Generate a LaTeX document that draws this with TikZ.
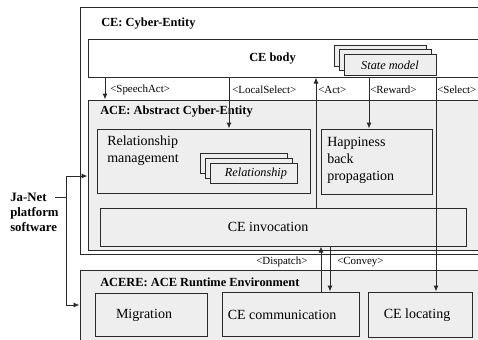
\documentclass[tikz,border=0pt]{standalone}
\usepackage{fontspec}
\setmainfont{Liberation Serif}
\usetikzlibrary{arrows.meta,fit}
\definecolor{boxgray}{HTML}{EEEEEE}
\definecolor{linegray}{HTML}{2A2A2A}
\begin{document}
\begin{tikzpicture}[x=0.75pt,y=-0.75pt,
  ln/.style={draw=linegray, line width=0.75pt},
  arr/.style={ln, -{Latex[length=4.5pt,width=3.8pt]}},
  box/.style={ln, inner sep=0pt, fill=boxgray},
  wbox/.style={ln, inner sep=0pt, fill=white},
  ttl/.style={inner sep=0pt, anchor=west, font=\fontsize{9.3}{11}\selectfont\bfseries},
  txt/.style={inner sep=0pt, font=\fontsize{10.5}{12.75}\selectfont},
  lbl/.style={inner sep=0pt, anchor=west, font=\fontsize{8.2}{10}\selectfont},
  itl/.style={inner sep=0pt, font=\fontsize{9.2}{11}\selectfont\itshape}]
\useasboundingbox (0,0) rectangle (478,339);
\clip (0,0) rectangle (478,339);
\fill[white] (0,0) rectangle (478,339);
% containers
\node[wbox, fit={(80,7) (530,254)}] (ce) {};
\node[wbox, fit={(88,39) (530,77)}] (cebody) {};
\node[box, fit={(88,100) (530,250)}] (ace) {};
\node[box, fit={(80,270) (530,360)}] (acere) {};
% ACE boxes
\node[box, fit={(97,129) (310,193)}] (relmgmt) {};
\node[box, fit={(321,129) (432,194)}] (happy) {};
\node[box, fit={(100,208) (466,246)}] (ceinv) {};
% ACERE boxes
\node[box, fit={(95,293) (207,336)}] (migr) {};
\node[box, fit={(222,292) (359,336)}] (cecomm) {};
\node[box, fit={(368,292) (472,337)}] (celoc) {};
% stacked: state model
\node[box, fit={(334,45) (426,66)}] (sm3) {};
\node[box, fit={(339,49.5) (431,70.5)}] (sm2) {};
\node[box, fit={(344,54) (436,75)}] (sm1) {};
% stacked: relationship
\node[box, fit={(200,153) (287,173)}] (rl3) {};
\node[box, fit={(205,158) (292,178)}] (rl2) {};
\node[box, fit={(210,163) (297,183)}] (rl1) {};
% texts
\node[ttl] (tce) at (101,24) {CE: Cyber-Entity};
\node[ttl] (tbody) at (249,59) {CE body};
\node[ttl] (tace) at (100,112) {ACE: Abstract Cyber-Entity};
\node[ttl] (tacere) at (100,282) {ACERE: ACE Runtime Environment};
\node[itl] (tsm) at (390,65) {State model};
\node[itl] (trl) at (256,173.5) {Relationship};
\node[txt, anchor=north west, align=left] (trm) at (107,136) {Relationship\\management};
\node[txt, anchor=north west, align=left] (thp) at (327,137) {Happiness\\back\\propagation};
\node[txt] (tinv) at (268,227) {CE invocation};
\node[txt] (tmig) at (144,315) {Migration};
\node[txt] (tcom) at (282,315) {CE communication};
\node[txt] (tloc) at (417,315) {CE locating};
\node[inner sep=0pt, anchor=west, align=left, font=\fontsize{9.6}{11.25}\selectfont\bfseries] (janet) at (10,212) {Ja-Net\\platform\\software};
% labels
\node[lbl] (lsa) at (110,89.5) {<SpeechAct>};
\node[lbl] (lls) at (232,89.5) {<LocalSelect>};
\node[lbl] (lact) at (318,89.5) {<Act>};
\node[lbl] (lrew) at (370,89.5) {<Reward>};
\node[lbl] (lsel) at (437,89.5) {<Select>};
\node[lbl] (ldis) at (256,262) {<Dispatch>};
\node[lbl] (lcon) at (337,262) {<Convey>};
% connector x positions
\coordinate (xsa) at (105,0);
\coordinate (xls) at (229,0);
\coordinate (xact) at (316,0);
\coordinate (xrew) at (369,0);
\coordinate (xsel) at (436,0);
\coordinate (xdis) at (321,0);
\coordinate (xcon) at (330,0);
\draw[arr] (cebody.south -| xsa) -- (ace.north -| xsa);
\draw[arr] (cebody.south -| xls) -- (relmgmt.north -| xls);
\draw[arr] (ceinv.north -| xact) -- (cebody.south -| xact);
\draw[arr] (cebody.south -| xrew) -- (happy.north -| xrew);
\draw[arr] (cebody.south -| xsel) -- (celoc.north -| xsel);
\draw[arr] (cecomm.north -| xdis) -- (ceinv.south -| xdis);
\draw[arr] (ceinv.south -| xcon) -- (cecomm.north -| xcon);
% Ja-Net connectors
\coordinate (tick) at (55,197);
\coordinate (bus) at (66,197);
\coordinate (ya) at (0,176);
\coordinate (yb) at (0,305);
\draw[ln] (tick) -- (bus);
\draw[arr] (bus) |- (ace.west |- ya);
\draw[arr] (bus) |- (acere.west |- yb);
\end{tikzpicture}
\end{document}
